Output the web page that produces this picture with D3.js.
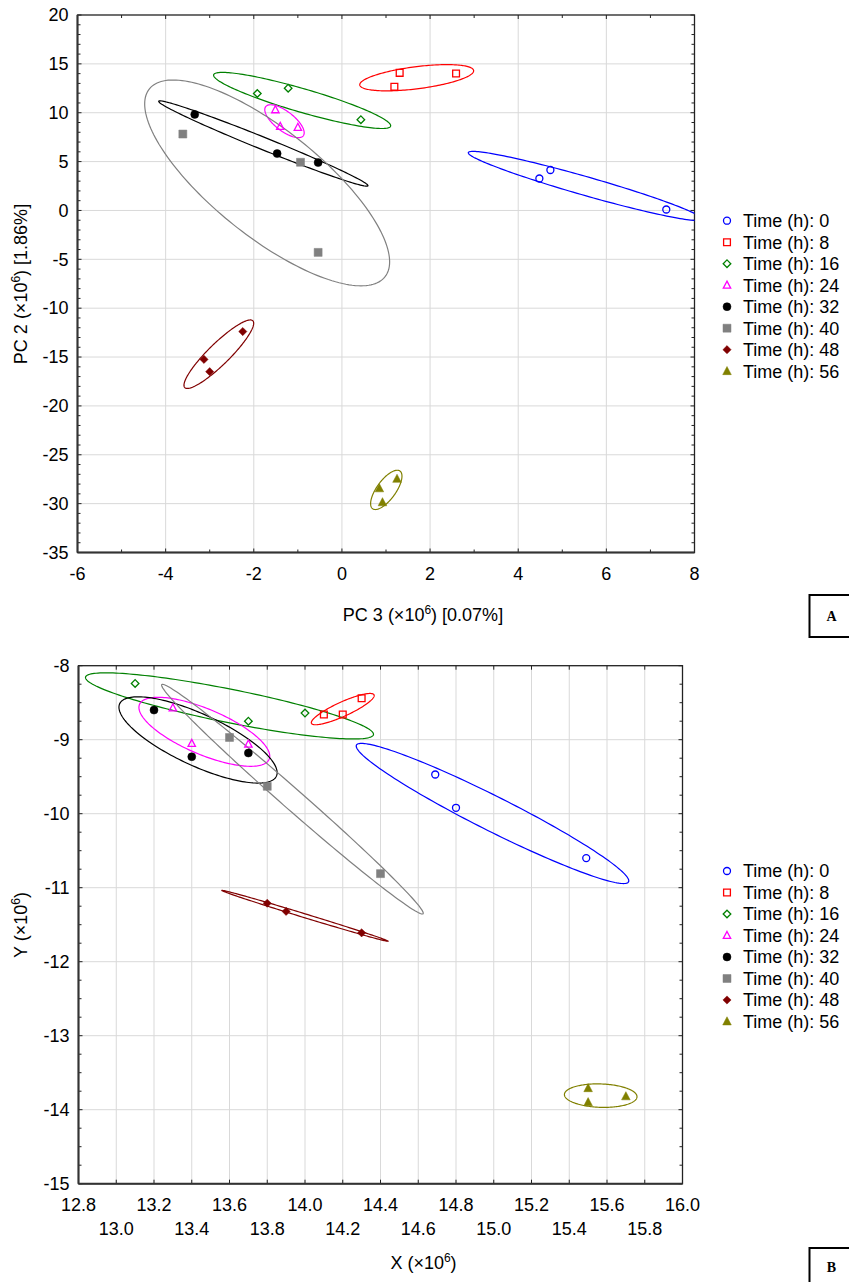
<!DOCTYPE html>
<html><head><meta charset="utf-8">
<script src="https://cdn.jsdelivr.net/npm/d3@7"></script>
<style>
body{margin:0;background:#fff}
svg{display:block}
text{font-family:"Liberation Sans",Arial,sans-serif;fill:#000}
</style>
</head><body>
<svg id="chart" width="849" height="1282"></svg>
<script>
// ---------- DATA ----------
const timeLabels = ["Time (h): 0","Time (h): 8","Time (h): 16","Time (h): 24","Time (h): 32","Time (h): 40","Time (h): 48","Time (h): 56"];

// Panel A: PC 3 (x) and PC 2 (y), ×10^6, three replicates per time
const pc3Values = [
  [4.48, 4.73, 7.36],
  [1.31, 1.19, 2.59],
  [-1.92, -1.22, 0.43],
  [-1.51, -1.40, -1.00],
  [-3.34, -1.47, -0.54],
  [-3.61, -0.94, -0.54],
  [-3.13, -3.00, -2.25],
  [0.85, 1.25, 0.92]
];
const pc2Values = [
  [3.27, 4.14, 0.10],
  [14.08, 12.65, 14.01],
  [11.97, 12.51, 9.29],
  [10.30, 8.60, 8.50],
  [9.83, 5.82, 4.90],
  [7.82, 4.93, -4.29],
  [-15.24, -16.50, -12.39],
  [-28.44, -27.47, -29.87]
];

// Panel B: X and Y, ×10^6
const xValues = [
  [14.69, 14.80, 15.49],
  [14.10, 14.20, 14.30],
  [13.10, 13.70, 14.00],
  [13.30, 13.40, 13.70],
  [13.20, 13.40, 13.70],
  [13.60, 13.80, 14.40],
  [13.80, 13.90, 14.30],
  [15.50, 15.50, 15.70]
];
const yValues = [
  [-9.47, -9.92, -10.60],
  [-8.66, -8.66, -8.44],
  [-8.24, -8.75, -8.64],
  [-8.57, -9.05, -9.06],
  [-8.60, -9.23, -9.18],
  [-8.97, -9.63, -10.81],
  [-11.21, -11.32, -11.61],
  [-13.71, -13.90, -13.82]
];

const aXTicks = [-6,-4,-2,0,2,4,6,8];
const aYTicks = [20,15,10,5,0,-5,-10,-15,-20,-25,-30,-35];
const bXTicks = [12.8,13.0,13.2,13.4,13.6,13.8,14.0,14.2,14.4,14.6,14.8,15.0,15.2,15.4,15.6,15.8,16.0];
const bYTicks = [-8,-9,-10,-11,-12,-13,-14,-15];

// ---------- STYLE ----------
const palette = ["#0000ff","#ff0000","#008000","#ff00ff","#000000","#808080","#800000","#808000"];
const shapes  = ["circle","square","diamond","triangle","circle","square","diamond","triangle"];
const filled  = [false,false,false,false,true,true,true,true];
const K = 1.665; // ellipse coverage coefficient
const FS = 18;

const svg = d3.select("#chart");
const fmt = v => { const s = (Math.round(v*1000)/1000).toString(); return s.replace("\u2212","-"); };

function markerPath(shape, isFilled){
  if(shape==="circle"){ const r = isFilled?4:3.5; return d3.symbol(d3.symbolCircle, Math.PI*r*r)(); }
  if(shape==="square"){ const s = isFilled?4:3.4; return `M${-s},${-s}H${s}V${s}H${-s}Z`; }
  if(shape==="diamond"){ const s = isFilled?4.1:3.8; return `M0,${-s}L${s},0L0,${s}L${-s},0Z`; }
  const s = isFilled?4.3:3.7; return `M0,${-s*1.1}L${s},${s*0.8}L${-s},${s*0.8}Z`;
}

function ellipse(xs, ys){
  const n = xs.length, mx = d3.mean(xs), my = d3.mean(ys);
  let a=0,b=0,c=0;
  for(let i=0;i<n;i++){ const dx=xs[i]-mx, dy=ys[i]-my; a+=dx*dx; b+=dx*dy; c+=dy*dy; }
  a/=(n-1); b/=(n-1); c/=(n-1);
  const sa=Math.sqrt(a), l21=b/sa, l22=Math.sqrt(Math.max(c-l21*l21,0));
  return d3.range(0,360,2).map(deg=>{
    const t=deg*Math.PI/180, u=Math.cos(t), v=Math.sin(t);
    return [mx+K*sa*u, my+K*(l21*u+l22*v)];
  });
}

function superLabel(g, parts){
  const t = g.append("text").attr("text-anchor","middle").attr("font-size",FS);
  t.append("tspan").text(parts[0]);
  t.append("tspan").attr("font-size",12).attr("dy",-7).text("6");
  t.append("tspan").attr("dy",7).text(parts[1]);
  return t;
}

function panel(cfg){
  const {id,L,R,T,B,xDom,yDom,xTicks,yTicks,xMinor,yMinor,gridX,gridY,XS,YS,twoRows,xDec} = cfg;
  const sx = d3.scaleLinear().domain(xDom).range([L,R]);
  const sy = d3.scaleLinear().domain(yDom).range([B,T]);
  const g = svg.append("g");
  g.append("clipPath").attr("id","clip"+id).append("rect")
    .attr("x",L).attr("y",T).attr("width",R-L).attr("height",B-T);
  // grid
  g.append("g").selectAll("line").data(gridX).join("line")
    .attr("x1",d=>sx(d)).attr("x2",d=>sx(d)).attr("y1",T).attr("y2",B)
    .attr("stroke","#d9d9d9").attr("stroke-width",1);
  g.append("g").selectAll("line").data(gridY).join("line")
    .attr("y1",d=>sy(d)).attr("y2",d=>sy(d)).attr("x1",L).attr("x2",R)
    .attr("stroke","#d9d9d9").attr("stroke-width",1);
  // inward ticks on all four sides
  const tk = g.append("g").attr("stroke","#222").attr("stroke-width",1);
  const allX = Array.from(new Set(xTicks.concat(xMinor)));
  const allY = Array.from(new Set(yTicks.concat(yMinor)));
  allX.forEach(v=>{
    const len = xTicks.includes(v)?4:3;
    tk.append("line").attr("x1",sx(v)).attr("x2",sx(v)).attr("y1",B).attr("y2",B-len);
    tk.append("line").attr("x1",sx(v)).attr("x2",sx(v)).attr("y1",T).attr("y2",T+len);
  });
  allY.forEach(v=>{
    const len = yTicks.includes(v)?4:3;
    tk.append("line").attr("y1",sy(v)).attr("y2",sy(v)).attr("x1",L).attr("x2",L+len);
    tk.append("line").attr("y1",sy(v)).attr("y2",sy(v)).attr("x1",R).attr("x2",R-len);
  });
  // frame
  g.append("rect").attr("x",L).attr("y",T).attr("width",R-L).attr("height",B-T)
    .attr("fill","none").attr("stroke","#222").attr("stroke-width",1.3);
  g.append("line").attr("x1",L).attr("x2",L).attr("y1",T).attr("y2",B).attr("stroke","#333").attr("stroke-width",2);
  g.append("line").attr("x1",L).attr("x2",R).attr("y1",B).attr("y2",B).attr("stroke","#333").attr("stroke-width",2);
  // tick labels
  g.append("g").selectAll("text").data(yTicks).join("text")
    .attr("x",L-9).attr("y",d=>sy(d)).attr("dy","0.35em").attr("text-anchor","end")
    .attr("font-size",FS).text(d=>fmt(d));
  g.append("g").selectAll("text").data(xTicks).join("text")
    .attr("x",d=>sx(d)).attr("y",(d,i)=> twoRows ? (i%2===0 ? B+27 : B+51) : B+27)
    .attr("text-anchor","middle").attr("font-size",FS)
    .text(d=> xDec ? d.toFixed(xDec) : fmt(d));
  // ellipses
  const line = d3.line().x(d=>sx(d[0])).y(d=>sy(d[1])).curve(d3.curveLinearClosed);
  const eg = g.append("g").attr("clip-path",`url(#clip${id})`);
  XS.forEach((xs,i)=>{
    eg.append("path").attr("d",line(ellipse(xs,YS[i])))
      .attr("fill","none").attr("stroke",palette[i]).attr("stroke-width",1.2);
  });
  // markers
  XS.forEach((xs,i)=>{
    const p = markerPath(shapes[i],filled[i]);
    g.append("g").selectAll("path").data(xs.map((x,j)=>[x,YS[i][j]])).join("path")
      .attr("d",p).attr("transform",d=>`translate(${sx(d[0])},${sy(d[1])})`)
      .attr("fill",filled[i]?palette[i]:"none")
      .attr("stroke",palette[i]).attr("stroke-width",filled[i]?0.5:1.3);
  });
  return {sx,sy};
}

// Panel A
panel({id:"A",L:77.5,R:694.5,T:15,B:552.5,xDom:[-6,8],yDom:[-35,20],
  xTicks:aXTicks,yTicks:aYTicks,
  xMinor:d3.range(-6,9,1),yMinor:d3.range(-35,21,1),
  gridX:[-4,-2,0,2,4,6],gridY:[15,10,5,0,-5,-10,-15,-20,-25,-30],
  XS:pc3Values,YS:pc2Values,twoRows:false});

// Panel B
panel({id:"B",L:78.5,R:682.5,T:665.7,B:1183.7,xDom:[12.8,16.0],yDom:[-15,-8],
  xTicks:bXTicks,yTicks:bYTicks,
  xMinor:[],yMinor:d3.range(0,29).map(i=>-8-i*0.25),
  gridX:bXTicks.slice(1,-1),gridY:[-9,-10,-11,-12,-13,-14],
  XS:xValues,YS:yValues,twoRows:true,xDec:1});

// axis titles
superLabel(svg.append("g").attr("transform","translate(423,621)"),["PC 3 (×10",") [0.07%]"]);
superLabel(svg.append("g").attr("transform","translate(27,284) rotate(-90)"),["PC 2 (×10",") [1.86%]"]);
superLabel(svg.append("g").attr("transform","translate(423.5,1269)"),["X (×10",")"]);
superLabel(svg.append("g").attr("transform","translate(27,925) rotate(-90)"),["Y (×10",")"]);

// legends
function legend(y0){
  const lg = svg.append("g");
  timeLabels.forEach((lab,i)=>{
    const y = y0 + i*21.5;
    lg.append("path").attr("d",markerPath(shapes[i],filled[i]))
      .attr("transform",`translate(727,${y})`)
      .attr("fill",filled[i]?palette[i]:"none").attr("stroke",palette[i])
      .attr("stroke-width",filled[i]?0.5:1.3);
    lg.append("text").attr("x",743).attr("y",y).attr("dy","0.35em")
      .attr("font-size",FS).text(lab);
  });
}
legend(220.7);
legend(871);

// panel letter boxes
[["A",595,621],["B",1248,1272]].forEach(([l,yt,yb])=>{
  svg.append("rect").attr("x",809.5).attr("y",yt).attr("width",50).attr("height",42)
    .attr("fill","none").attr("stroke","#000").attr("stroke-width",2);
  svg.append("text").attr("x",831.5).attr("y",yb).attr("text-anchor","middle")
    .style("font-family","'Liberation Serif','Times New Roman',serif")
    .attr("font-weight","bold").attr("font-size",14).text(l);
});
</script>
</body></html>
